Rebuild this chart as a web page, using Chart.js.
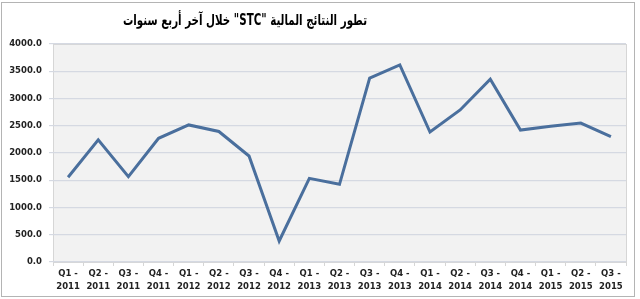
<!DOCTYPE html>
<html>
<head>
<meta charset="utf-8">
<script src="https://cdn.jsdelivr.net/npm/chart.js@4/dist/chart.umd.min.js"></script>
<style>
  html, body { margin: 0; padding: 0; background: #fff; }
  #wrap { position: relative; width: 640px; height: 299px; }
  #frame { position: absolute; left: 1px; top: 2px; width: 632px; height: 293px; border: 1px solid #b4b4b4; pointer-events: none; }
</style>
</head>
<body>
<div id="wrap">
  <canvas id="chart" width="640" height="299"></canvas>
  <div id="frame"></div>
</div>
<script>
// STC quarterly results, Q1 2011 - Q3 2015
const title = 'تطور النتائج المالية "STC" خلال آخر أربع سنوات';
const labels = [
  ["Q1 -", "2011"], ["Q2 -", "2011"], ["Q3 -", "2011"], ["Q4 -", "2011"],
  ["Q1 -", "2012"], ["Q2 -", "2012"], ["Q3 -", "2012"], ["Q4 -", "2012"],
  ["Q1 -", "2013"], ["Q2 -", "2013"], ["Q3 -", "2013"], ["Q4 -", "2013"],
  ["Q1 -", "2014"], ["Q2 -", "2014"], ["Q3 -", "2014"], ["Q4 -", "2014"],
  ["Q1 -", "2015"], ["Q2 -", "2015"], ["Q3 -", "2015"],
];
const results = [1555, 2240, 1565, 2270, 2515, 2395, 1945, 385, 1535, 1425,
                 3375, 3615, 2385, 2790, 3355, 2420, 2490, 2550, 2300];

const plotBg = {
  id: "plotBg",
  beforeDraw(c) {
    const { ctx, chartArea: a } = c;
    ctx.save();
    ctx.fillStyle = "#f2f2f2";
    ctx.fillRect(a.left, a.top, a.right - a.left, a.bottom - a.top);
    ctx.strokeStyle = "#d6d6d6";
    ctx.lineWidth = 1;
    ctx.strokeRect(a.left + 0.5, a.top + 0.5, a.right - a.left, a.bottom - a.top);
    ctx.restore();
  },
  afterDraw(c) {
    // Arabic title, squeezed to the width it has in the original
    const ctx = c.ctx;
    ctx.save();
    ctx.direction = "rtl";
    ctx.textAlign = "center";
    ctx.textBaseline = "middle";
    ctx.fillStyle = "#000";
    ctx.font = "bold 15px 'DejaVu Sans'";
    const w = ctx.measureText(title).width;
    ctx.translate(245, 21);
    ctx.scale(244 / w, 1);
    ctx.fillText(title, 0, 0);
    ctx.restore();
  },
};

new Chart(document.getElementById("chart"), {
  type: "line",
  data: {
    labels,
    datasets: [{
      data: results,
      borderColor: "#4a6f9d",
      borderWidth: 3,
      pointRadius: 0,
      tension: 0,
    }],
  },
  options: {
    responsive: false,
    animation: false,
    layout: { padding: { left: 3, right: 14, top: 44, bottom: 2 } },
    plugins: { legend: { display: false }, tooltip: { enabled: false } },
    scales: {
      x: {
        offset: true,
        grid: { display: true, drawOnChartArea: false, offset: true, tickLength: 4, color: "#d6d6d6" },
        border: { display: false },
        ticks: {
          color: "#222", maxRotation: 0, autoSkip: false, padding: 2,
          font: { family: "DejaVu Sans", size: 8.5, weight: "bold", lineHeight: 1.45 },
        },
        afterFit: (s) => { s.height = 35; },
      },
      y: {
        min: 0, max: 4000,
        ticks: {
          stepSize: 500, color: "#222", padding: 7,
          font: { family: "DejaVu Sans", size: 8.5, weight: "bold" },
          callback: (v) => v.toFixed(1),
        },
        grid: { color: "#d5d9e2", tickLength: 4, lineWidth: 1.2 },
        border: { display: false },
        afterFit: (s) => { s.width = 50; },
      },
    },
  },
  plugins: [plotBg],
});
</script>
</body>
</html>
